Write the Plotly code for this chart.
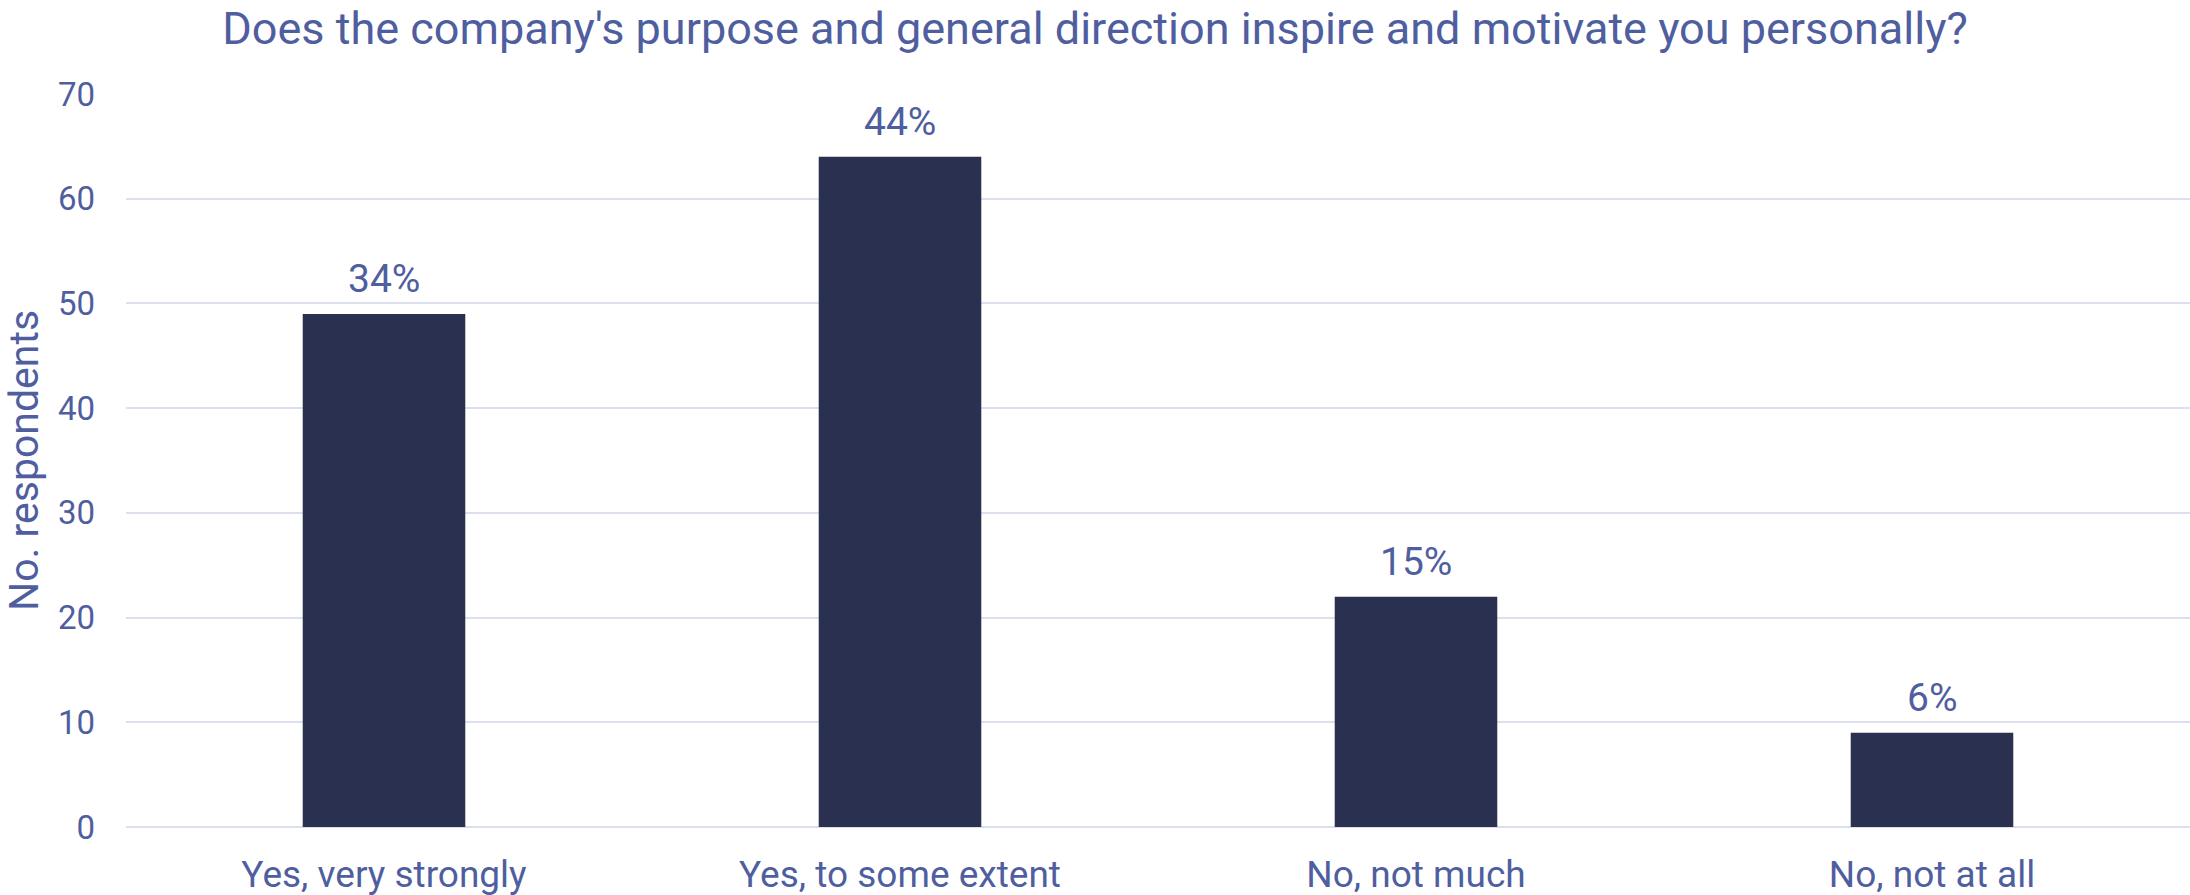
import plotly.graph_objects as go

# Survey responses
categories = ["Yes, very strongly", "Yes, to some extent", "No, not much", "No, not at all"]
respondents = [49, 64, 22, 9]
y_ticks = [0, 10, 20, 30, 40, 50, 60, 70]

total = sum(respondents)
shares = [f"{round(v / total * 100)}%" for v in respondents]

TEXT = "#4F5E9F"
BAR = "#293050"
GRID = "#DCDFEE"
FONT = "Roboto"

fig = go.Figure(
    go.Bar(
        x=categories,
        y=respondents,
        marker=dict(color=BAR, line=dict(width=0)),
        width=0.315,
        hoverinfo="x+y",
    )
)

for cat, val, label in zip(categories, respondents, shares):
    fig.add_annotation(
        x=cat, y=val, text=label, showarrow=False,
        yanchor="bottom", yshift=10,
        font=dict(family=FONT, size=39, color=TEXT),
    )

fig.update_layout(
    width=2190, height=895,
    margin=dict(l=126, r=0, t=94, b=68),
    paper_bgcolor="white", plot_bgcolor="white",
    showlegend=False,
    title=dict(
        text="Does the company's purpose and general direction inspire and motivate you personally?",
        x=0.5, xanchor="center", y=1 - 28 / 895, yanchor="middle",
        font=dict(family=FONT, size=45, color=TEXT),
    ),
    font=dict(family=FONT, color=TEXT),
)

fig.update_xaxes(
    range=[-0.5, 3.5], automargin=False,
    showgrid=False, zeroline=False, showline=False,
    ticks="", tickfont=dict(family=FONT, size=37, color=TEXT),
    ticklabelstandoff=22,
)
fig.update_yaxes(
    range=[0, 70], tickvals=y_ticks, automargin=False,
    showgrid=True, gridcolor=GRID, gridwidth=2,
    zeroline=True, zerolinecolor=GRID, zerolinewidth=2,
    showline=False, ticks="",
    tickfont=dict(family=FONT, size=33, color=TEXT),
    ticklabelstandoff=30,
    title=dict(text="No. respondents", standoff=16,
               font=dict(family=FONT, size=41, color=TEXT)),
)

fig.write_html("out.html")
